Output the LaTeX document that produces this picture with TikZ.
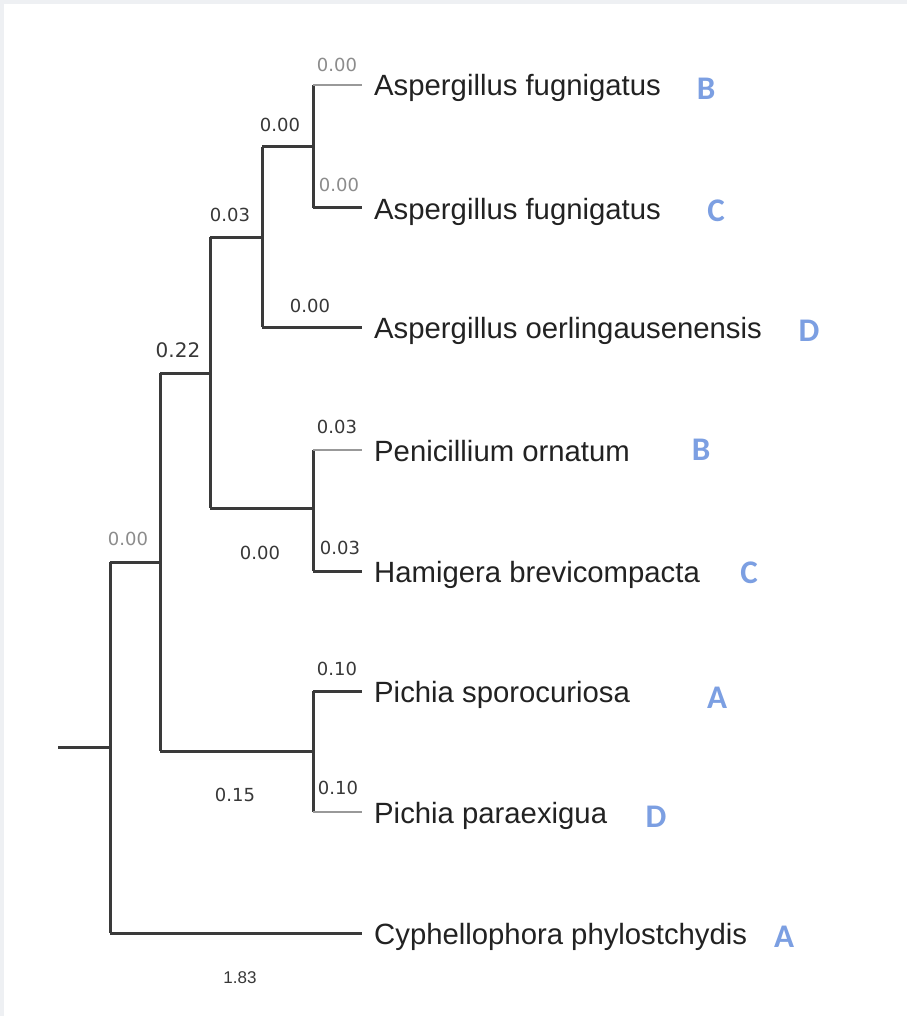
\documentclass[tikz,border=0pt]{standalone}
\usepackage{fontspec}
\setmainfont{Liberation Sans}
\newfontfamily\labfont{DejaVu Sans}
\newfontfamily\letfont{Carlito}
\definecolor{framegray}{HTML}{EEF0F3}
\definecolor{brdark}{HTML}{3A3A3A}
\definecolor{brlight}{HTML}{999999}
\definecolor{txtdark}{HTML}{222222}
\definecolor{numdark}{HTML}{383838}
\definecolor{numlight}{HTML}{8C8C8C}
\definecolor{letblue}{HTML}{7C9FE2}
\tikzset{
  br/.style={draw=brdark, line width=3pt},
  brl/.style={draw=brlight, line width=2.6pt},
  leaf/.style={anchor=west, inner xsep=12pt, inner ysep=0pt, text height=22pt, text depth=0pt,
     font=\fontsize{29.3}{32}\selectfont, text=txtdark},
  grp/.style={inner sep=0pt, text height=23pt, text depth=0pt,
     font=\letfont\bfseries\fontsize{33}{36}\selectfont, text=letblue},
  num/.style={inner sep=0pt, font=\labfont\fontsize{18}{20}\selectfont, text=numdark},
  numl/.style={num, text=numlight},
}
\begin{document}
\begin{tikzpicture}[x=1pt,y=-1pt]
\fill[framegray] (0,0) rectangle (907,1016);
\fill[white] (4,4) rectangle (907,1016);
\useasboundingbox (0,0) rectangle (907,1016);

% leaves
\node[leaf] (L1) at (362,85)  {Aspergillus fugnigatus};
\node[leaf] (L2) at (362,208) {Aspergillus fugnigatus};
\node[leaf] (L3) at (362,327) {Aspergillus oerlingausenensis};
\node[leaf] (L4) at (362,450) {Penicillium ornatum};
\node[leaf] (L5) at (362,571) {Hamigera brevicompacta};
\node[leaf] (L6) at (362,691) {Pichia sporocuriosa};
\node[leaf] (L7) at (362,812) {Pichia paraexigua};
\node[leaf] (L8) at (362,933) {Cyphellophora phylostchydis};

% group letters
\node[grp] (G1) at (706,88)  {B};
\node[grp] (G2) at (716,210) {C};
\node[grp] (G3) at (809,330) {D};
\node[grp] (G4) at (701,449) {B};
\node[grp] (G5) at (749,572) {C};
\node[grp] (G6) at (717,697) {A};
\node[grp] (G7) at (656,816) {D};
\node[grp] (G8) at (784,936) {A};

% internal nodes
\coordinate (n1) at (313,147);
\coordinate (n2) at (262,237);
\coordinate (n3) at (313,508);
\coordinate (n4) at (210,373);
\coordinate (n5) at (313,751);
\coordinate (n6) at (160,562);
\coordinate (rt) at (110,747);
\coordinate (stub) at (58,747);

% verticals
\draw[br] (n1 |- L1.west) -- (n1 |- L2.west);
\draw[br] (n2 |- n1) -- (n2 |- L3.west);
\draw[br] (n3 |- L4.west) -- (n3 |- L5.west);
\draw[br] (n4 |- n2) -- (n4 |- n3);
\draw[br] (n5 |- L6.west) -- (n5 |- L7.west);
\draw[br] (n6 |- n4) -- (n6 |- n5);
\draw[br] (rt |- n6) -- (rt |- L8.west);

% horizontals
\draw[brl] (n1 |- L1.west) -- (L1.west);
\draw[br]  (n1 |- L2.west) -- (L2.west);
\draw[br]  (n2 |- n1) -- (n1);
\draw[br]  (n2 |- L3.west) -- (L3.west);
\draw[brl] (n3 |- L4.west) -- (L4.west);
\draw[br]  (n3 |- L5.west) -- (L5.west);
\draw[br]  (n4 |- n2) -- (n2);
\draw[br]  (n4 |- n3) -- (n3);
\draw[br]  (n5 |- L6.west) -- (L6.west);
\draw[brl] (n5 |- L7.west) -- (L7.west);
\draw[br]  (n6 |- n4) -- (n4);
\draw[br]  (n6 |- n5) -- (n5);
\draw[br]  (rt |- n6) -- (n6);
\draw[br]  (rt |- L8.west) -- (L8.west);
\draw[br]  (stub) -- (rt);

% branch lengths
\node[numl] (b1) at (337,65)  {0.00};
\node[num]  (b2) at (280,125) {0.00};
\node[numl] (b3) at (339,185) {0.00};
\node[num]  (b4) at (230,215) {0.03};
\node[num]  (b5) at (310,306) {0.00};
\node[num, font=\labfont\fontsize{20}{22}\selectfont] (b6) at (178,350) {0.22};
\node[num]  (b7) at (337,427) {0.03};
\node[numl] (b8) at (128,539) {0.00};
\node[num]  (b9) at (260,553) {0.00};
\node[num]  (b10) at (340,548) {0.03};
\node[num]  (b11) at (337,669) {0.10};
\node[num]  (b12) at (235,795) {0.15};
\node[num]  (b13) at (338,788) {0.10};
\node[num, font=\fontsize{17}{19}\selectfont] (b14) at (240,978) {1.83};
\end{tikzpicture}
\end{document}
